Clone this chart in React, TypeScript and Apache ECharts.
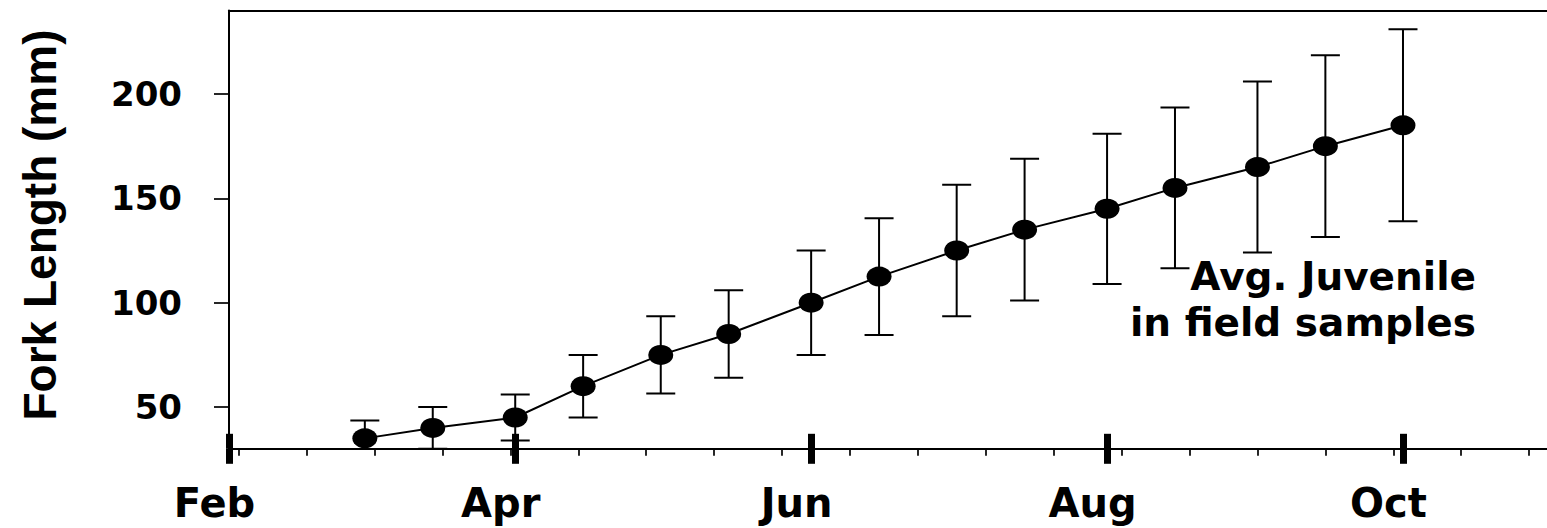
import React, { useEffect, useRef } from "react";
import * as echarts from "echarts";

// ---- data ----
const sampleDates = ["Mar 1", "Mar 15", "Apr 1", "Apr 15", "May 1", "May 15", "Jun 1", "Jun 15", "Jul 1", "Jul 15", "Aug 1", "Aug 15", "Sep 1", "Sep 15", "Oct 1"];
const meanLength = [35, 40, 45, 60, 75, 85, 100, 112.5, 125, 135, 145, 155, 165, 175, 185];
const sdLength = [8.5, 10, 11, 15, 18.5, 21, 25, 28, 31.5, 34, 36, 38.5, 41, 43.5, 46];

const majorTickDates = ["Feb 1", "Apr 1", "Jun 1", "Aug 1", "Oct 1"];
const majorTickLabels = ["Feb", "Apr", "Jun", "Aug", "Oct"];
const minorTickDates = ["Feb 3", "Feb 17", "Mar 3", "Mar 17", "Mar 31", "Apr 14", "Apr 28", "May 12", "May 26", "Jun 9", "Jun 23", "Jul 7", "Jul 21", "Aug 4", "Aug 18", "Sep 1", "Sep 15", "Sep 29", "Oct 13", "Oct 27"];
const xRange = ["Feb 1", "Nov 1"];
const yTicks = [50, 100, 150, 200];
const yRange = [30, 240];
const yTitle = "Fork Length (mm)";
const noteText = "Avg. Juvenile\nin field samples";

const MONTHS = ["Jan", "Feb", "Mar", "Apr", "May", "Jun", "Jul", "Aug", "Sep", "Oct", "Nov", "Dec"];
const MONTH_LEN = [31, 28, 31, 30, 31, 30, 31, 31, 30, 31, 30, 31];
function dayOfYear(s: string): number {
  const [m, d] = s.split(" ");
  const mi = MONTHS.indexOf(m);
  let n = 0;
  for (let i = 0; i < mi; i++) n += MONTH_LEN[i];
  return n + Number(d);
}

const sampleDays = sampleDates.map(dayOfYear);
const majorDays = majorTickDates.map(dayOfYear);
const minorDays = minorTickDates.map(dayOfYear);
const xMin = dayOfYear(xRange[0]);
const xMax = dayOfYear(xRange[1]);

const PX_PER_DAY = 4.8512;
const GRID_LEFT = 229;
const GRID_TOP = 10.5;
const GRID_H = 438.3;
const GRID_W = (xMax - xMin) * PX_PER_DAY;

const DEJAVU = '"DejaVu Sans", "Noto Sans", sans-serif';

export default function App() {
  const ref = useRef<HTMLDivElement>(null);
  useEffect(() => {
    if (!ref.current) return;
    const chart = echarts.init(ref.current, null, { renderer: "svg" });
    const baseX = { type: "value", min: xMin, max: xMax, gridIndex: 0 };
    const option: any = {
      animation: false,
      backgroundColor: "#ffffff",
      grid: {
        left: GRID_LEFT,
        top: GRID_TOP,
        width: GRID_W,
        height: GRID_H,
        containLabel: false,
        outerBoundsMode: "none",
      },
      xAxis: [
        {
          ...baseX,
          position: "bottom",
          axisLine: { show: true, lineStyle: { color: "#000", width: 2 } },
          axisTick: { show: true, inside: false, length: 15, customValues: majorDays, lineStyle: { color: "#000", width: 7 } },
          axisLabel: {
            show: true,
            customValues: majorDays,
            formatter: (v: number) => majorTickLabels[majorDays.indexOf(Math.round(v))] ?? "",
            color: "#000",
            fontFamily: DEJAVU,
            fontWeight: "bold",
            fontSize: 40,
            margin: 34,
            padding: [0, 29, 0, 0],
          },
          splitLine: { show: false },
        },
        {
          ...baseX,
          position: "bottom",
          axisLine: { show: false },
          axisTick: { show: true, inside: true, length: 15, customValues: majorDays, lineStyle: { color: "#000", width: 7 } },
          axisLabel: { show: false },
          splitLine: { show: false },
        },
        {
          ...baseX,
          position: "bottom",
          axisLine: { show: false },
          axisTick: { show: true, inside: false, length: 7, customValues: minorDays, lineStyle: { color: "#000", width: 1.7 } },
          axisLabel: { show: false },
          splitLine: { show: false },
        },
        {
          ...baseX,
          position: "top",
          axisLine: { show: true, lineStyle: { color: "#000", width: 2 } },
          axisTick: { show: false },
          axisLabel: { show: false },
          splitLine: { show: false },
        },
      ],
      yAxis: {
        type: "value",
        min: yRange[0],
        max: yRange[1],
        axisLine: { show: true, lineStyle: { color: "#000", width: 2 } },
        axisTick: { show: true, inside: false, length: 15, customValues: yTicks, lineStyle: { color: "#000", width: 1.7 } },
        axisLabel: {
          show: true,
          customValues: yTicks,
          color: "#000",
          fontFamily: DEJAVU,
          fontWeight: "bold",
          fontSize: 34,
          margin: 47,
        },
        splitLine: { show: false },
      },
      graphic: [
        {
          type: "text",
          x: 40,
          y: 225,
          rotation: Math.PI / 2,
          style: {
            text: yTitle,
            fill: "#000",
            fontFamily: '"Liberation Sans", Arial, sans-serif',
            fontWeight: "bold",
            fontSize: 46,
            align: "center",
            verticalAlign: "middle",
          },
        },
        {
          type: "text",
          x: 1476,
          y: 253,
          z: 10,
          style: {
            text: noteText,
            fill: "#000",
            fontFamily: DEJAVU,
            fontWeight: "bold",
            fontSize: 39,
            lineHeight: 46,
            align: "right",
            verticalAlign: "top",
          },
        },
      ],
      series: [
        {
          type: "custom",
          xAxisIndex: 0,
          yAxisIndex: 0,
          clip: true,
          z: 2,
          encode: { x: 0, y: [1, 2] },
          data: sampleDays.map((d, i) => [d, meanLength[i] - sdLength[i], meanLength[i] + sdLength[i]]),
          renderItem: (params: any, api: any) => {
            const x = api.value(0);
            const top = api.coord([x, api.value(2)]);
            const bot = api.coord([x, api.value(1)]);
            const hw = 14.5;
            const st = { stroke: "#000", lineWidth: 2 };
            return {
              type: "group",
              children: [
                { type: "line", shape: { x1: top[0], y1: top[1], x2: bot[0], y2: bot[1] }, style: st },
                { type: "line", shape: { x1: top[0] - hw, y1: top[1], x2: top[0] + hw, y2: top[1] }, style: st },
                { type: "line", shape: { x1: bot[0] - hw, y1: bot[1], x2: bot[0] + hw, y2: bot[1] }, style: st },
              ],
            };
          },
        },
        {
          type: "line",
          xAxisIndex: 0,
          yAxisIndex: 0,
          z: 3,
          data: sampleDays.map((d, i) => [d, meanLength[i]]),
          symbol: "circle",
          symbolSize: [25, 20],
          showSymbol: true,
          itemStyle: { color: "#000", borderWidth: 0 },
          lineStyle: { color: "#000", width: 2 },
          emphasis: { disabled: true },
        },
      ],
    };
    chart.setOption(option);
    return () => chart.dispose();
  }, []);
  return (
    <div
      ref={ref}
      style={{ position: "fixed", left: 0, top: 0, width: 1547, height: 528, background: "#fff" }}
    />
  );
}
